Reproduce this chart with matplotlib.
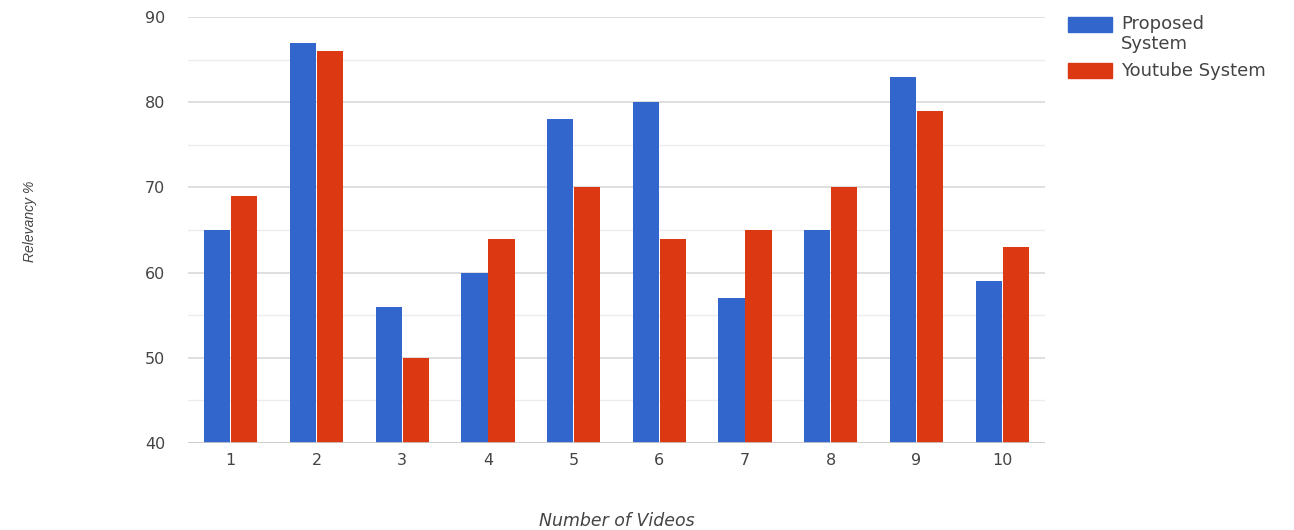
import matplotlib.pyplot as plt
import numpy as np
from matplotlib.patches import Rectangle

# relevancy per video, read as percentages
videos = ["1", "2", "3", "4", "5", "6", "7", "8", "9", "10"]
proposed = [65, 87, 56, 60, 78, 80, 57, 65, 83, 59]
youtube = [69, 86, 50, 64, 70, 64, 65, 70, 79, 63]

BLUE = "#3366cc"
RED = "#dc3912"
TXT = "#444444"

plt.rcParams["font.family"] = ["DejaVu Sans"]

W, H = 1294.0, 530.0
fig = plt.figure(figsize=(W / 100, H / 100), dpi=100)
ax = fig.add_axes([188 / W, 1 - 443 / H, (1045 - 188) / W, (443 - 17) / H])

x = np.arange(1, len(videos) + 1)
w = 0.305
ax.bar(x - w / 2 - 0.005, proposed, width=w, color=BLUE, zorder=3)
ax.bar(x + w / 2 + 0.005, youtube, width=w, color=RED, zorder=3)

ax.set_xlim(0.5, 10.5)
ax.set_ylim(40, 90)
ax.set_yticks([40, 50, 60, 70, 80, 90])
ax.set_yticks([45, 55, 65, 75, 85], minor=True)
ax.set_xticks(x)
ax.set_xticklabels(videos)

ax.yaxis.grid(True, which="major", color="#d9d9d9", lw=1.2, zorder=0)
ax.yaxis.grid(True, which="minor", color="#ececec", lw=1.0, zorder=0)
ax.axhline(40, color="#cccccc", lw=1.2, zorder=4)

for s in ax.spines.values():
    s.set_visible(False)
ax.tick_params(axis="both", which="both", length=0, labelsize=11.5, colors=TXT)
ax.tick_params(axis="y", pad=16.5)
ax.tick_params(axis="x", pad=7)

fig.text(30 / W, 1 - 221 / H, "Relevancy %", rotation=90, style="italic",
         family="Liberation Sans", fontsize=10, color=TXT,
         ha="center", va="center")
fig.text(617 / W, 1 - 521 / H, "Number of Videos", style="italic",
         fontsize=12.5, color=TXT, ha="center", va="center")

# legend drawn by hand, Google-chart style
fig.patches.append(Rectangle((1068 / W, 1 - 32 / H), 44 / W, 15 / H,
                             transform=fig.transFigure, color=BLUE))
fig.patches.append(Rectangle((1068 / W, 1 - 78 / H), 44 / W, 15 / H,
                             transform=fig.transFigure, color=RED))
for base, lbl in [(29, "Proposed"), (49, "System"), (76, "Youtube System")]:
    fig.text(1121 / W, 1 - base / H, lbl, fontsize=13, color=TXT,
             ha="left", va="baseline")

plt.savefig("out.png", dpi=100)
